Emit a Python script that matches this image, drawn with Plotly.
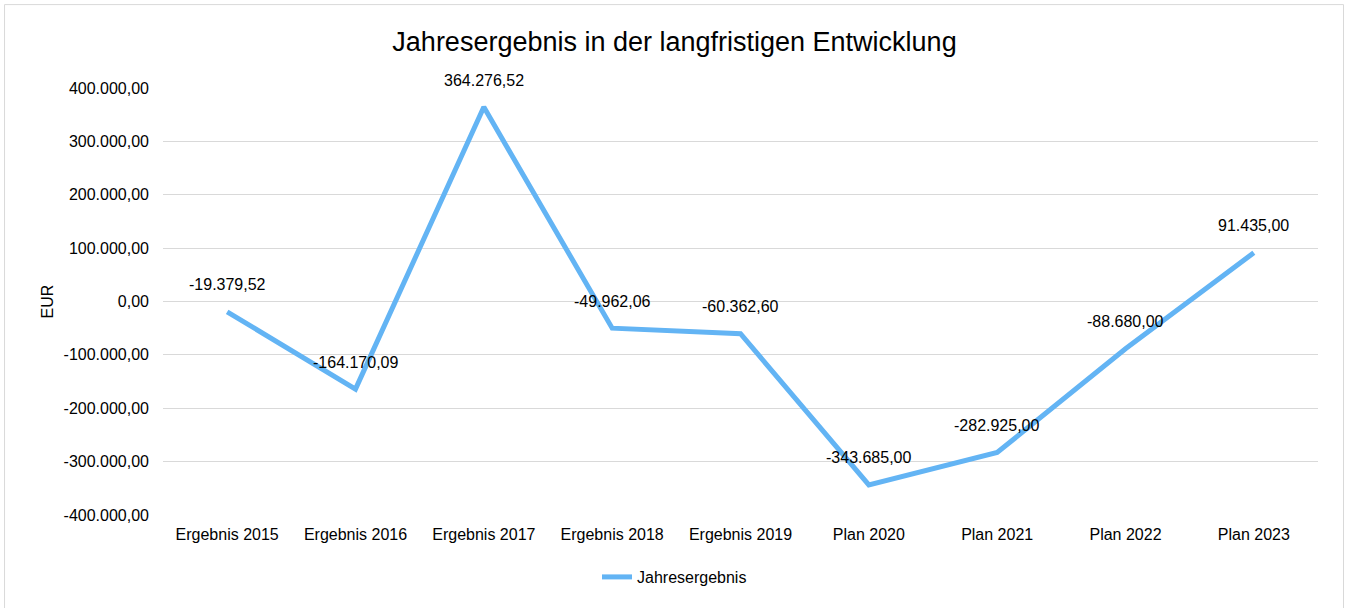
import plotly.graph_objects as go

categories = ["Ergebnis 2015", "Ergebnis 2016", "Ergebnis 2017", "Ergebnis 2018",
              "Ergebnis 2019", "Plan 2020", "Plan 2021", "Plan 2022", "Plan 2023"]
jahresergebnis = [-19379.52, -164170.09, 364276.52, -49962.06, -60362.60,
                  -343685.00, -282925.00, -88680.00, 91435.00]
y_ticks = [-400000, -300000, -200000, -100000, 0, 100000, 200000, 300000, 400000]


def de_format(v):
    # 1234567.5 -> 1.234.567,50
    s = f"{v:,.2f}"
    return s.replace(",", "X").replace(".", ",").replace("X", ".")


FONT = "Liberation Sans, Arial, sans-serif"
BLUE = "#63B4F4"

fig = go.Figure()
fig.add_trace(go.Scatter(
    x=categories, y=jahresergebnis, mode="lines", name="Jahresergebnis",
    line=dict(color=BLUE, width=5), hoverinfo="skip"
))

# Datenbeschriftungen über den Punkten
for c, v in zip(categories, jahresergebnis):
    fig.add_annotation(x=c, y=v, text=de_format(v), showarrow=False,
                       yshift=27, xanchor="center", yanchor="middle",
                       font=dict(family=FONT, size=16, color="#000000"))

# Rahmen um das Diagramm
fig.add_shape(type="rect", xref="paper", yref="paper",
              x0=-0.1372, x1=1.0221, y0=-0.23, y1=1.1953,
              line=dict(color="#d9d9d9", width=1), layer="below")

fig.update_layout(
    width=1349, height=608,
    margin=dict(l=163, r=31, t=88, b=92.5),
    paper_bgcolor="white", plot_bgcolor="white",
    font=dict(family=FONT, size=16, color="#000000"),
    title=dict(text="Jahresergebnis in der langfristigen Entwicklung",
               x=0.5, xref="container", xanchor="center",
               y=1 - 42 / 608, yref="container", yanchor="middle",
               font=dict(size=27, color="#000000")),
    showlegend=True,
    legend=dict(orientation="h", xref="container", x=0.5, xanchor="center",
                yref="container", y=1 - 577 / 608, yanchor="middle",
                font=dict(size=16)),
    xaxis=dict(type="category", range=[-0.5, 8.5], showgrid=False,
               showline=False, ticks="", ticklabelstandoff=8,
               tickfont=dict(size=16)),
    yaxis=dict(range=[-400000, 400000], tickvals=y_ticks,
               ticktext=[de_format(t) for t in y_ticks],
               gridcolor="#d9d9d9", gridwidth=1.4, zeroline=False,
               showline=False, ticks="", ticklabelstandoff=13,
               tickfont=dict(size=16),
               title=dict(text="EUR", font=dict(size=16), standoff=5)),
)

fig.write_html("out.html", config={"displayModeBar": False},
               post_script="document.body.style.margin='0';")
